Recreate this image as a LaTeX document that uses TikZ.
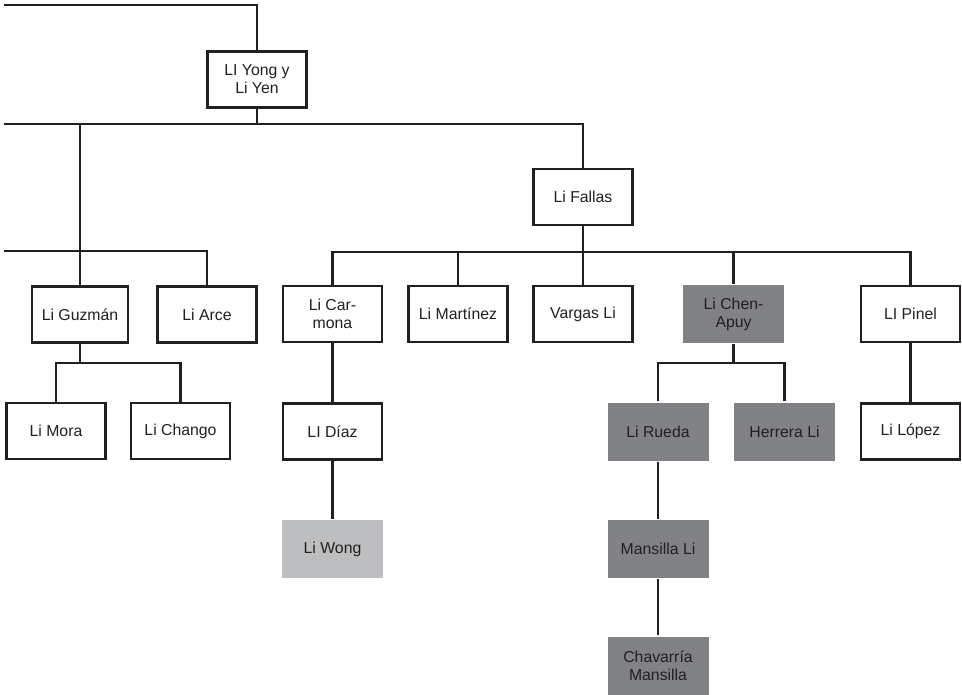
\documentclass[tikz,border=0pt]{standalone}
\usepackage{fontspec}
\setmainfont{Liberation Sans}
\definecolor{ink}{HTML}{231F20}
\definecolor{darkfill}{HTML}{808285}
\definecolor{lightfill}{HTML}{BCBEC0}
\tikzset{
  person/.style={draw=ink, line width=2.4pt, fill=white, text=ink,
    minimum width=99pt, minimum height=56pt, inner sep=2pt, align=center,
    font=\fontsize{15.8}{18}\selectfont},
  shaded/.style={person, draw=none, fill=darkfill, minimum width=101pt, minimum height=58pt},
  pale/.style={shaded, fill=lightfill},
  link/.style={draw=ink, line width=2.4pt}
}
\begin{document}
\begin{tikzpicture}[x=1pt,y=-1pt]
\useasboundingbox (0,0) rectangle (962,695);

% generation 1
\node[person] (yong) at (257,79.5) {LI Yong y\\Li Yen};
% generation 2
\node[person] (fallas) at (583,197) {Li Fallas};
% generation 3
\node[person, minimum width=96pt] (guzman) at (80,314.5) {Li Guzmán};
\node[person] (arce) at (207,314.5) {Li Arce};
\node[person] (carmona) at (332.5,314) {Li Car-\\mona};
\node[person] (martinez) at (458,314) {Li Martínez};
\node[person] (vargas) at (583,314) {Vargas Li};
\node[shaded] (chen) at (733.5,314) {Li Chen-\\Apuy};
\node[person] (pinel) at (910.5,314) {LI Pinel};
% generation 4
\node[person] (mora) at (56,431) {Li Mora};
\node[person] (chango) at (180.5,431) {Li Chango};
\node[person] (diaz) at (332.5,431.5) {LI Díaz};
\node[shaded] (rueda) at (658,431.5) {Li Rueda};
\node[shaded] (herrera) at (784.5,431.5) {Herrera Li};
\node[person] (lopez) at (910.5,431.5) {Li López};
% generation 5
\node[pale] (wong) at (332.5,549) {Li Wong};
\node[shaded] (mansilla) at (658,549) {Mansilla Li};
% generation 6
\node[shaded] (chavarria) at (658,665.5) {Chavarría\\Mansilla};

% bus lines entering from the left
\coordinate (top) at (4,5);
\coordinate (busA) at (4,124);
\coordinate (busB) at (4,251);
\coordinate (busF) at (583,252);
\coordinate (busG) at (80,363);
\coordinate (busC) at (733.5,363);

\draw[link] (top) -| (yong.north);
\draw[link] (busA) -| (fallas.north);
\draw[link] (yong.south) -- (yong.south |- busA);
\draw[link] (guzman.north) -- (guzman.north |- busA);
\draw[link] (busB) -| (arce.north);

\draw[link] (carmona.north) |- (busF) -| (pinel.north);
\draw[link] (fallas.south) -- (vargas.north);
\draw[link] (martinez.north) -- (martinez.north |- busF);
\draw[link] (chen.north) -- (chen.north |- busF);

\draw[link] (guzman.south) -- (busG);
\draw[link] (mora.north) |- (busG) -| (chango.north);

\draw[link] (chen.south) -- (busC);
\draw[link] (rueda.north) |- (busC) -| (herrera.north);

\draw[link] (carmona.south) -- (diaz.north);
\draw[link] (diaz.south) -- (wong.north);
\draw[link] (pinel.south) -- (lopez.north);
\draw[link] (rueda.south) -- (mansilla.north);
\draw[link] (mansilla.south) -- (chavarria.north);
\end{tikzpicture}
\end{document}
